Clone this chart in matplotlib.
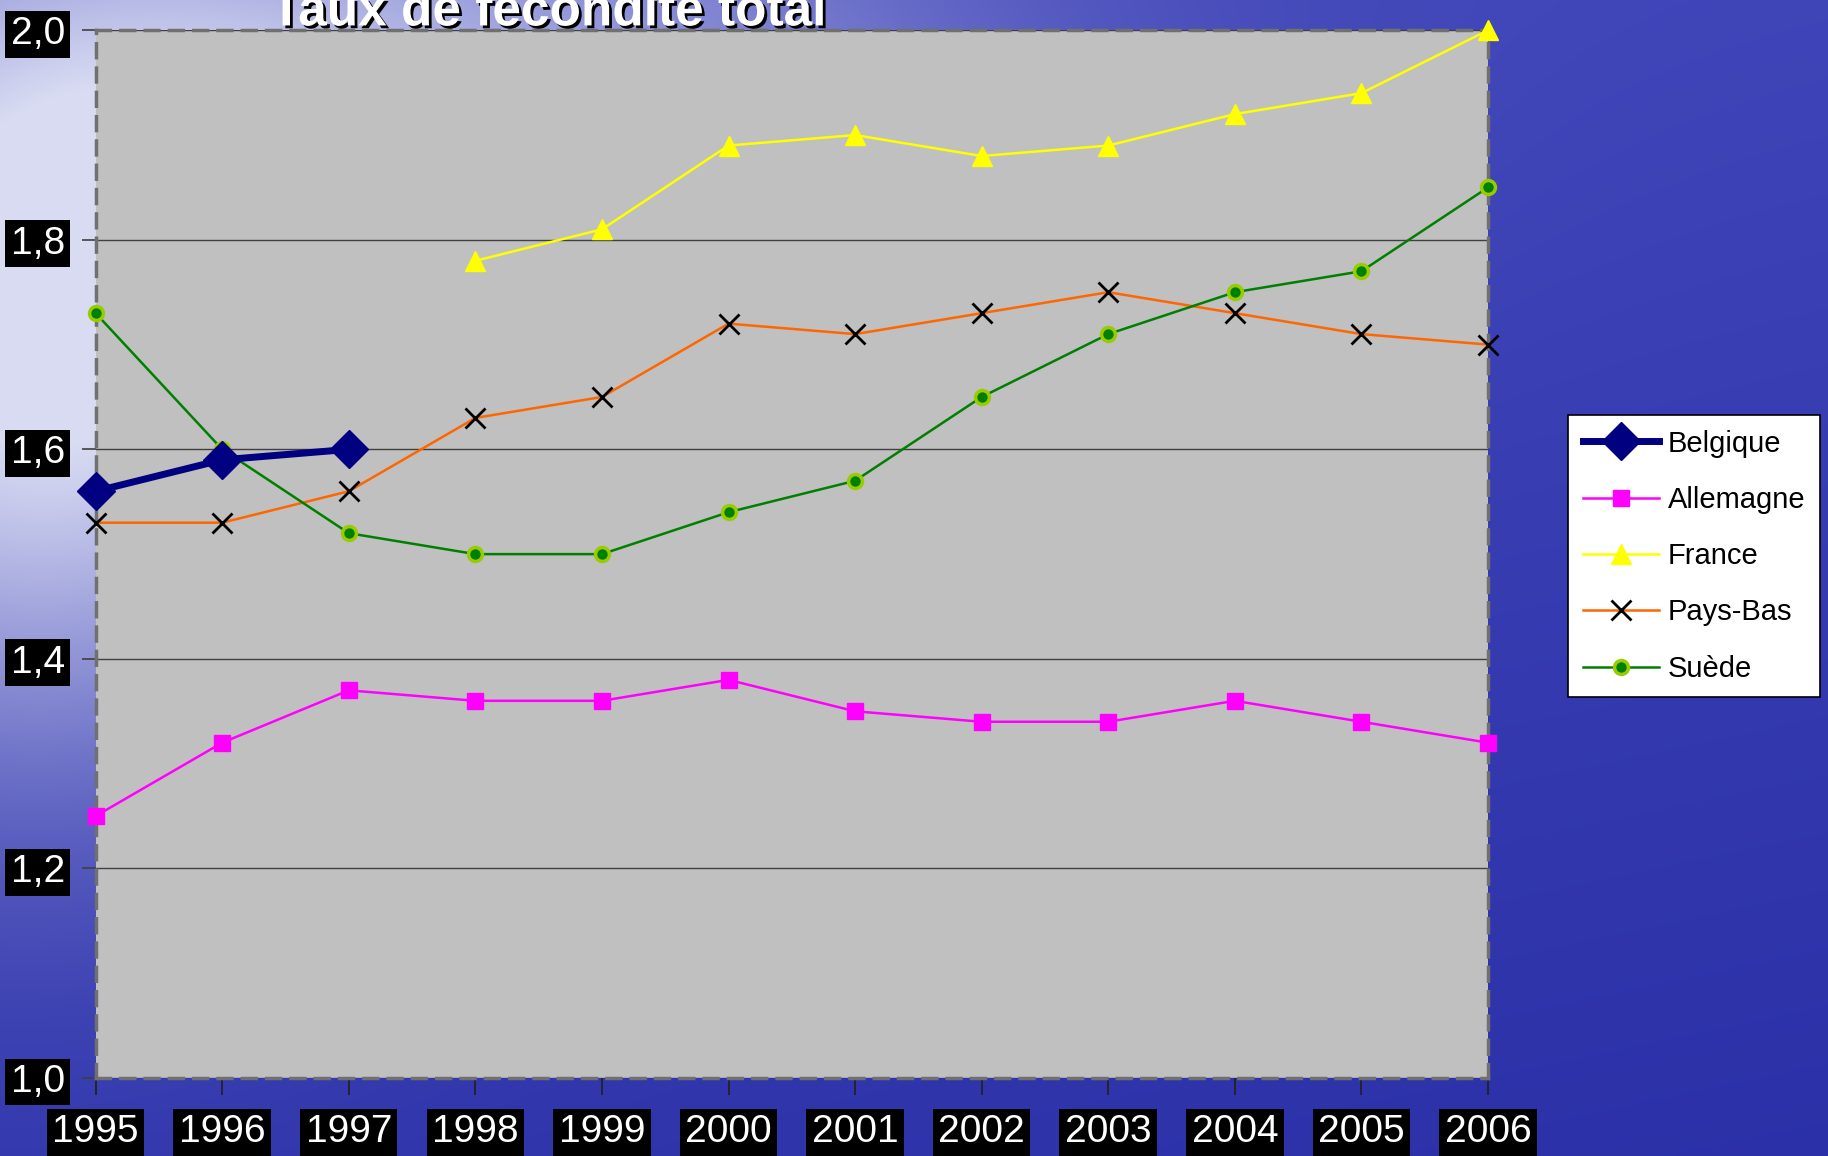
import numpy as np
import matplotlib
matplotlib.use("Agg")
from matplotlib import pyplot as plt
import matplotlib.patheffects as pe

plt.rcParams['font.family'] = ['Liberation Sans', 'DejaVu Sans']

# Données (taux de fécondité total)
years = [1995, 1996, 1997, 1998, 1999, 2000, 2001, 2002, 2003, 2004, 2005, 2006]
belgique = [1.56, 1.59, 1.60]
allemagne = [1.25, 1.32, 1.37, 1.36, 1.36, 1.38, 1.35, 1.34, 1.34, 1.36, 1.34, 1.32]
france = [1.78, 1.81, 1.89, 1.90, 1.88, 1.89, 1.92, 1.94, 2.00]
pays_bas = [1.53, 1.53, 1.56, 1.63, 1.65, 1.72, 1.71, 1.73, 1.75, 1.73, 1.71, 1.70]
suede = [1.73, 1.60, 1.52, 1.50, 1.50, 1.54, 1.57, 1.65, 1.71, 1.75, 1.77, 1.85]
y_ticks = [1.0, 1.2, 1.4, 1.6, 1.8, 2.0]
y_labels = ["1,0", "1,2", "1,4", "1,6", "1,8", "2,0"]

fig = plt.figure(figsize=(18.28, 11.56), dpi=100)

# fond bleu (dégradé façon eau)
h, w = 300, 480
yy, xx = np.mgrid[0:1:h * 1j, 0:1:w * 1j]
light = np.exp(-((xx - 0.02) ** 2) / 0.04 - ((yy - 0.3) ** 2) / 0.12)
light = light + 0.6 * np.exp(-((xx - 0.25) ** 2) / 0.08 - ((yy - 0.1) ** 2) / 0.05)
light = np.clip(light, 0, 1)
dark = np.array([0.17, 0.19, 0.66])
mid = np.array([0.30, 0.32, 0.76])
pale = np.array([0.85, 0.86, 0.95])
t = (1 - yy) * 0.6 + 0.2 * (1 - xx)
base = dark[None, None, :] * (1 - t[..., None]) + mid[None, None, :] * t[..., None]
img = base * (1 - light[..., None]) + pale[None, None, :] * light[..., None]
bg = fig.add_axes([0, 0, 1, 1], zorder=-10)
bg.imshow(img, aspect='auto', extent=(0, 1, 0, 1), interpolation='bilinear')
bg.axis('off')

ax = fig.add_axes([0.0523, 0.0675, 0.7617, 0.9063])
ax.set_facecolor('#C0C0C0')

ax.plot(years[:3], belgique, color='#000080', lw=5, marker='D', ms=19,
        label='Belgique', zorder=6, clip_on=False)
ax.plot(years, allemagne, color='#FF00FF', lw=1.8, marker='s', ms=11,
        label='Allemagne', zorder=5, clip_on=False)
ax.plot(years[3:], france, color='#FFFF00', lw=1.8, marker='^', ms=14,
        label='France', zorder=5, clip_on=False)
ax.plot(years, pays_bas, color='#FF6600', lw=1.8, marker='x', ms=14, mec='black', mew=2,
        label='Pays-Bas', zorder=5, clip_on=False)
ax.plot(years, suede, color='#008000', lw=1.8, marker='o', ms=10, mfc='#008000',
        mec='#99CC00', mew=2.5, label='Suède', zorder=5, clip_on=False)

ax.set_xlim(1995, 2006)
ax.set_ylim(1.0, 2.0)
ax.set_yticks(y_ticks)
ax.set_yticklabels(y_labels)
ax.set_xticks(years)
ax.set_xticklabels([str(y) for y in years])
ax.grid(axis='y', color='#404040', lw=1)
ax.set_axisbelow(True)

for side in ['left', 'top', 'right', 'bottom']:
    ax.spines[side].set_color('#707070')
    ax.spines[side].set_linestyle((0, (4, 3)))
    ax.spines[side].set_linewidth(2.5)

ax.tick_params(axis='y', length=10, width=1.2, color='#404040', pad=12, labelsize=28,
               labelcolor='white')
ax.tick_params(axis='x', length=12, width=1.2, color='#202020', pad=14, labelsize=28,
               labelcolor='white')
for lab in ax.get_xticklabels() + ax.get_yticklabels():
    lab.set_bbox(dict(facecolor='black', edgecolor='none', pad=4))

fig.text(0.30, 0.978, "Taux de fécondité total", color='white', fontsize=37,
         fontweight='bold', ha='center', va='baseline',
         path_effects=[pe.withSimplePatchShadow(offset=(2, -2), shadow_rgbFace='black', alpha=1)])

leg = ax.legend(loc='upper left', bbox_to_anchor=(0.858, 0.641), bbox_transform=fig.transFigure,
                fontsize=21, frameon=True, fancybox=False, edgecolor='black', facecolor='white',
                framealpha=1, handlelength=2.6, labelspacing=0.97, borderpad=0.5,
                handletextpad=0.3, borderaxespad=0)
leg.get_frame().set_linewidth(1.2)

fig.savefig("out.png", dpi=100)
